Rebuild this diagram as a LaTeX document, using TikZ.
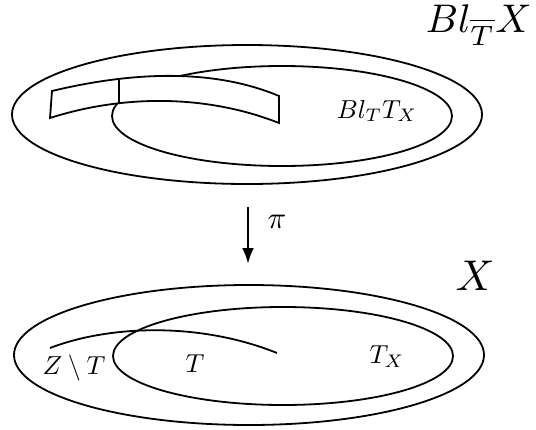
\documentclass[tikz,border=0pt]{standalone}
\usetikzlibrary{arrows.meta}
\begin{document}
\begin{tikzpicture}[x=1pt,y=-1pt,
  curve/.style={line width=1.8pt},
  lbl/.style={font=\normalsize, inner sep=0pt, scale=2.6, transform shape},
  pilbl/.style={font=\normalsize, inner sep=0pt, scale=3.1, transform shape},
  big/.style={font=\normalsize, inner sep=0pt, scale=4.0, transform shape},
  bigx/.style={font=\normalsize, inner sep=0pt, scale=4.3, transform shape},
  maparrow/.style={line width=2.6pt, -{Latex[length=16pt,width=12pt]}}]
\useasboundingbox (0,0) rectangle (536,429);
% ---- upper space Bl_T X
\draw[curve] (247,114.5) ellipse [x radius=235, y radius=69.5];
\draw[curve] (282,116) ellipse [x radius=170, y radius=50];
\draw[curve, fill=white] (52,91) .. controls (127,73) and (210,67) .. (279,96)
   -- (279,123) .. controls (208,95) and (125,94) .. (50,118) -- cycle;
\coordinate (vtop) at (119,79);
\coordinate (vbot) at (119,103.5);
\draw[curve] (vtop) -- (vbot);
\node[lbl, anchor=base] (bltx) at (377,118) {$Bl_TT_X$};
\node[big, anchor=base west] (blx) at (425,32) {$Bl_{\overline{T}}X$};
% ---- map
\coordinate (pitop) at (248,207);
\coordinate (pibot) at (248,264);
\draw[maparrow] (pitop) -- (pibot);
\node[pilbl] (pi) at (277,222) {$\pi$};
% ---- lower space X
\draw[curve] (249,355) ellipse [x radius=235, y radius=70];
\draw[curve] (283,356) ellipse [x radius=170, y radius=49];
\coordinate (zs) at (50,348);
\coordinate (ze) at (277,353);
\draw[curve] (zs) .. controls (110,325) and (200,322) .. (ze);
\node[lbl] (zt) at (74,368) {$Z\setminus T$};
\node[lbl] (t) at (195,364) {$T$};
\node[lbl] (tx) at (387,357) {$T_X$};
\node[bigx, anchor=base] (x) at (475,290) {$X$};
\end{tikzpicture}
\end{document}
